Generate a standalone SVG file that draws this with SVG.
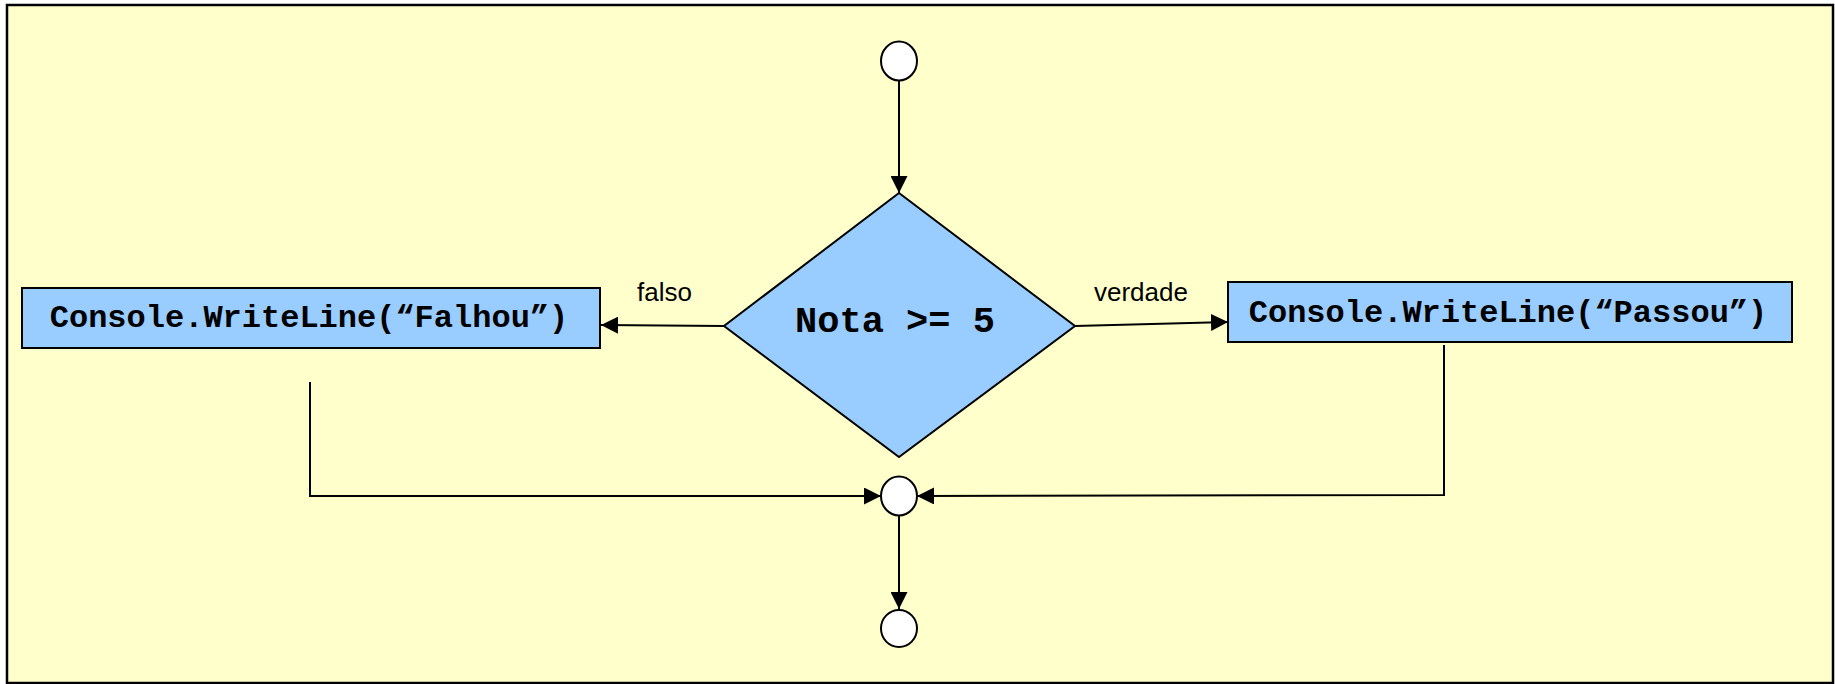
<svg xmlns="http://www.w3.org/2000/svg" width="1835" height="684" viewBox="0 0 1835 684">
  <style>
    .frame { fill: #FFFFCC; stroke: #000; stroke-width: 2.5; }
    .box { fill: #99CCFF; stroke: #000; stroke-width: 2; }
    .term { fill: #FFFFFF; stroke: #000; stroke-width: 2; }
    .code { font-family: "Liberation Mono", "Courier New", monospace; font-weight: bold; fill: #000; }
    .label { font-family: "Liberation Sans", Arial, sans-serif; font-size: 26px; fill: #000; }
    .wire { fill: none; stroke: #000; stroke-width: 2; }
  </style>
  <defs>
    <marker id="arrow" markerUnits="userSpaceOnUse" markerWidth="17" markerHeight="17" viewBox="0 0 16 16" refX="16" refY="8" orient="auto">
      <path d="M0,0 L16,8 L0,16 Z" fill="#000"/>
    </marker>
  </defs>

  <!-- page background -->
  <rect class="frame" x="7" y="5" width="1826" height="678"/>

  <!-- connectors -->
  <g id="connectors">
    <line class="wire" x1="899" y1="81" x2="899" y2="193" marker-end="url(#arrow)"/>
    <line class="wire" x1="724" y1="326" x2="601" y2="325" marker-end="url(#arrow)"/>
    <line class="wire" x1="1075" y1="326" x2="1228" y2="322" marker-end="url(#arrow)"/>
    <polyline class="wire" points="310,382 310,496 881,496" marker-end="url(#arrow)"/>
    <polyline class="wire" points="1444,345 1444,495 917,496" marker-end="url(#arrow)"/>
    <line class="wire" x1="899" y1="515" x2="899" y2="609" marker-end="url(#arrow)"/>
    <text class="label" x="637" y="301">falso</text>
    <text class="label" x="1094" y="301">verdade</text>
  </g>

  <!-- start terminal -->
  <g id="start">
    <ellipse class="term" cx="899" cy="61" rx="18" ry="19.5"/>
  </g>

  <!-- decision -->
  <g id="decision">
    <polygon class="box" points="899,193 1075,326 899,457 724,326"/>
    <text class="code" x="895" y="332" font-size="37" text-anchor="middle">Nota &gt;= 5</text>
  </g>

  <!-- false branch -->
  <g id="fail">
    <rect class="box" x="22" y="288" width="578" height="60"/>
    <text class="code" x="309" y="327" font-size="32" text-anchor="middle">Console.WriteLine(“Falhou”)</text>
  </g>

  <!-- true branch -->
  <g id="pass">
    <rect class="box" x="1228" y="282" width="564" height="60"/>
    <text class="code" x="1508" y="322" font-size="32" text-anchor="middle">Console.WriteLine(“Passou”)</text>
  </g>

  <!-- merge point -->
  <g id="merge">
    <ellipse class="term" cx="899" cy="496" rx="18" ry="19.5"/>
  </g>

  <!-- end terminal -->
  <g id="end">
    <ellipse class="term" cx="899" cy="628.5" rx="18" ry="18.5"/>
  </g>
</svg>
